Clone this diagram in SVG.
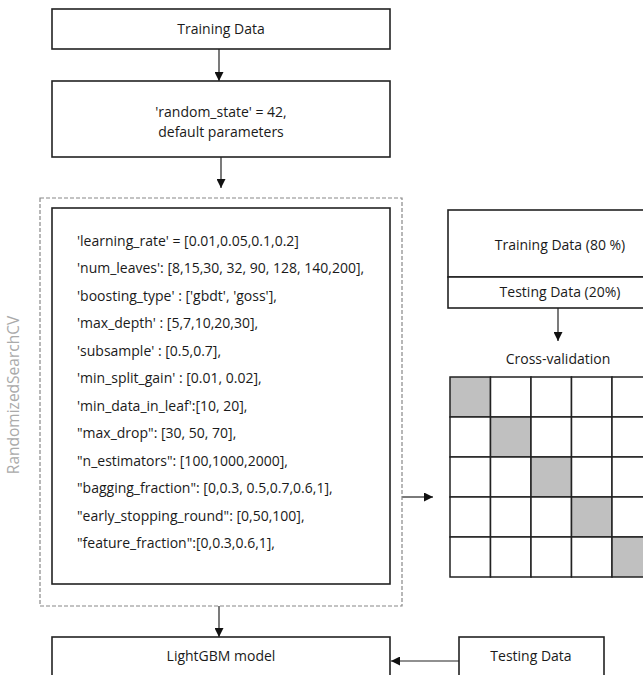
<svg xmlns="http://www.w3.org/2000/svg" width="643" height="675" viewBox="0 0 643 675">
<style>
text{font-family:"Open Sans","Liberation Sans",sans-serif;fill:#1a1a1a;font-size:14px}
.box{fill:#fff;stroke:#222;stroke-width:1.6}
.c{text-anchor:middle}
.p{font-size:13.6px}
.cell{fill:#fff;stroke:#222;stroke-width:1.5}
.sh{fill:#c0c0c0}
.con{stroke:#222;stroke-width:1.2;fill:none}
</style>
<defs>
<marker id="ah" viewBox="0 0 10 10" refX="10" refY="5" markerWidth="9" markerHeight="9" markerUnits="userSpaceOnUse" orient="auto">
<path d="M0,0 L10,5 L0,10 Z" fill="#111"/>
</marker>
</defs>
<rect width="643" height="675" fill="#fff"/>
<g id="connectors">
<line class="con" x1="219" y1="49" x2="219" y2="81" marker-end="url(#ah)"/>
<line class="con" x1="221" y1="157" x2="221" y2="188" marker-end="url(#ah)"/>
<line class="con" x1="402" y1="497" x2="433" y2="497" marker-end="url(#ah)"/>
<line class="con" x1="558" y1="308" x2="558" y2="341" marker-end="url(#ah)"/>
<line class="con" x1="219" y1="606" x2="219" y2="637" marker-end="url(#ah)"/>
<line class="con" x1="459" y1="661" x2="391" y2="661" marker-end="url(#ah)"/>
</g>
<g id="training-data">
<rect class="box" x="52" y="9" width="338" height="40"/>
<text class="c" x="221" y="34">Training Data</text>
</g>
<g id="default-params">
<rect class="box" x="52" y="81" width="338" height="76"/>
<text class="c" x="221" y="117">'random_state' = 42,</text>
<text class="c" x="221" y="137">default parameters</text>
</g>
<g id="randomized-search">
<rect x="40" y="198" width="362" height="408" fill="none" stroke="#888" stroke-width="1.2" stroke-dasharray="4,2"/>
<text class="c" transform="translate(19,395) rotate(-90)" style="fill:#aaa;font-size:15.5px">RandomizedSearchCV</text>
</g>
<g id="params">
<rect class="box" x="52" y="208" width="338" height="376"/>
<g class="p">
<text x="77" y="246">'learning_rate' = [0.01,0.05,0.1,0.2]</text>
<text x="77" y="273">'num_leaves': [8,15,30, 32, 90, 128, 140,200],</text>
<text x="77" y="301">'boosting_type' : ['gbdt', 'goss'],</text>
<text x="77" y="328">'max_depth' : [5,7,10,20,30],</text>
<text x="77" y="356">'subsample' : [0.5,0.7],</text>
<text x="77" y="383">'min_split_gain' : [0.01, 0.02],</text>
<text x="77" y="411">'min_data_in_leaf':[10, 20],</text>
<text x="77" y="438">"max_drop": [30, 50, 70],</text>
<text x="77" y="466">"n_estimators": [100,1000,2000],</text>
<text x="77" y="493">"bagging_fraction": [0,0.3, 0.5,0.7,0.6,1],</text>
<text x="77" y="521">"early_stopping_round": [0,50,100],</text>
<text x="77" y="548">"feature_fraction":[0,0.3,0.6,1],</text>
</g>
</g>
<g id="split">
<rect class="box" x="448" y="210" width="210" height="67"/>
<text class="c" x="560" y="250">Training Data (80 %)</text>
<rect class="box" x="448" y="277" width="210" height="31"/>
<text class="c" x="560" y="297">Testing  Data (20%)</text>
</g>
<g id="cross-validation">
<text class="c" x="558" y="364">Cross-validation</text>
<g>
<rect class="cell sh" x="450" y="377" width="40.5" height="40"/>
<rect class="cell" x="490.5" y="377" width="40.5" height="40"/>
<rect class="cell" x="531" y="377" width="40.5" height="40"/>
<rect class="cell" x="571.5" y="377" width="40.5" height="40"/>
<rect class="cell" x="612" y="377" width="40.5" height="40"/>
<rect class="cell" x="450" y="417" width="40.5" height="40"/>
<rect class="cell sh" x="490.5" y="417" width="40.5" height="40"/>
<rect class="cell" x="531" y="417" width="40.5" height="40"/>
<rect class="cell" x="571.5" y="417" width="40.5" height="40"/>
<rect class="cell" x="612" y="417" width="40.5" height="40"/>
<rect class="cell" x="450" y="457" width="40.5" height="40"/>
<rect class="cell" x="490.5" y="457" width="40.5" height="40"/>
<rect class="cell sh" x="531" y="457" width="40.5" height="40"/>
<rect class="cell" x="571.5" y="457" width="40.5" height="40"/>
<rect class="cell" x="612" y="457" width="40.5" height="40"/>
<rect class="cell" x="450" y="497" width="40.5" height="40"/>
<rect class="cell" x="490.5" y="497" width="40.5" height="40"/>
<rect class="cell" x="531" y="497" width="40.5" height="40"/>
<rect class="cell sh" x="571.5" y="497" width="40.5" height="40"/>
<rect class="cell" x="612" y="497" width="40.5" height="40"/>
<rect class="cell" x="450" y="537" width="40.5" height="40"/>
<rect class="cell" x="490.5" y="537" width="40.5" height="40"/>
<rect class="cell" x="531" y="537" width="40.5" height="40"/>
<rect class="cell" x="571.5" y="537" width="40.5" height="40"/>
<rect class="cell sh" x="612" y="537" width="40.5" height="40"/>
</g>
</g>
<g id="lightgbm">
<rect class="box" x="52" y="637" width="338" height="50"/>
<text class="c" x="221" y="661">LightGBM model</text>
</g>
<g id="testing-data">
<rect class="box" x="459" y="637" width="145" height="50"/>
<text class="c" x="531" y="661">Testing Data</text>
</g>
</svg>
